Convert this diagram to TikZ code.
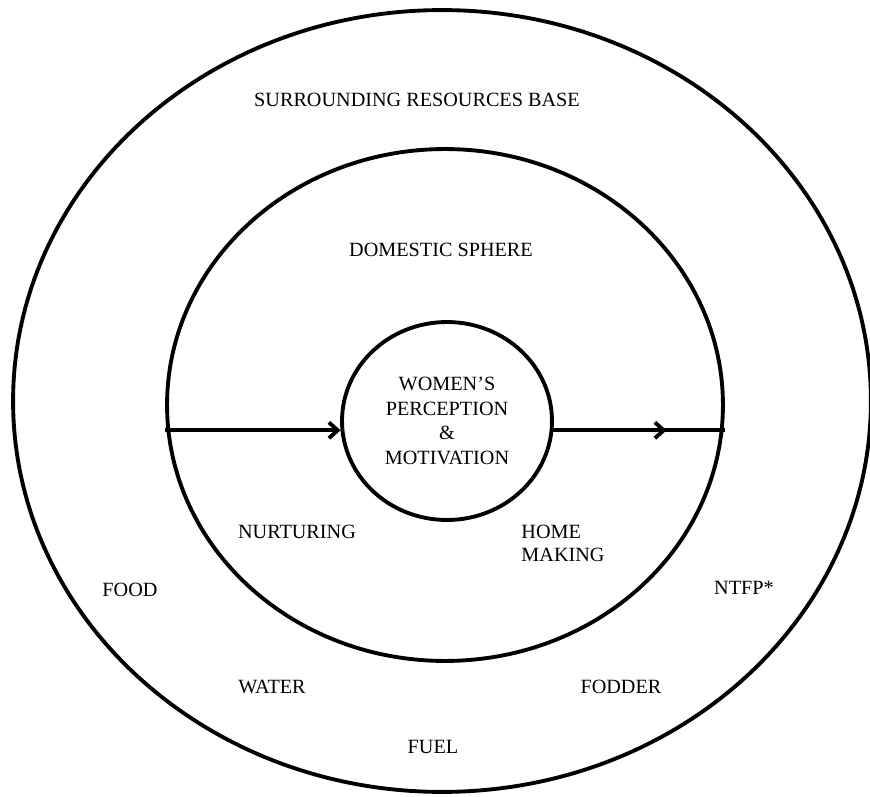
\documentclass[tikz,border=0pt]{standalone}
\usepackage{fontspec}
\setmainfont{Liberation Serif}
\usepackage{tikz}
\usetikzlibrary{shapes.geometric, arrows.meta, decorations.markings}

\begin{document}
\begin{tikzpicture}[
    x=0.02cm, y=-0.02cm,
    ring/.style={ellipse, draw=black, line width=2.2pt, inner sep=0pt},
    label/.style={font=\fontsize{11.5}{13}\selectfont, inner sep=1pt},
    flow/.style={line width=2.2pt, -{Straight Barb[length=5pt, width=9pt]}},
    midflow/.style={line width=2.2pt, postaction={decorate},
        decoration={markings, mark=at position 0.66 with {\arrow{Straight Barb[length=5pt, width=9pt]}}}}
]
\useasboundingbox (0,0) rectangle (870,797);

% Three nested rings
\node[ring, minimum width=17.16cm, minimum height=15.64cm] (resources) at (442,401) {};
\node[ring, minimum width=11.12cm, minimum height=10.24cm] (domestic) at (445,405) {};
\node[ring, minimum width=4.2cm, minimum height=3.96cm, align=center,
      font=\fontsize{11.5}{14}\selectfont] (core) at (447,421)
      {WOMEN’S\\PERCEPTION\\\&\\MOTIVATION};

% Ring titles
\node[label] (resTitle) at (417,100) {SURROUNDING RESOURCES BASE};
\node[label] (domTitle) at (441,250) {DOMESTIC SPHERE};

% Domestic tasks
\node[label] (nurture) at (297,532) {NURTURING};
\node[label, align=left] (homemaking) at (563,543) {HOME\\MAKING};

% Resources
\node[label] (food) at (130,590) {FOOD};
\node[label] (ntfp) at (744,588) {NTFP*};
\node[label] (water) at (272,687) {WATER};
\node[label] (fodder) at (621,687) {FODDER};
\node[label] (fuel) at (433,747) {FUEL};

% Flows through the centre
\draw[flow] (core.185 -| domestic.west) -- (core.185);
\draw[midflow] (core.355) -- (core.355 -| domestic.east);
\end{tikzpicture}
\end{document}
